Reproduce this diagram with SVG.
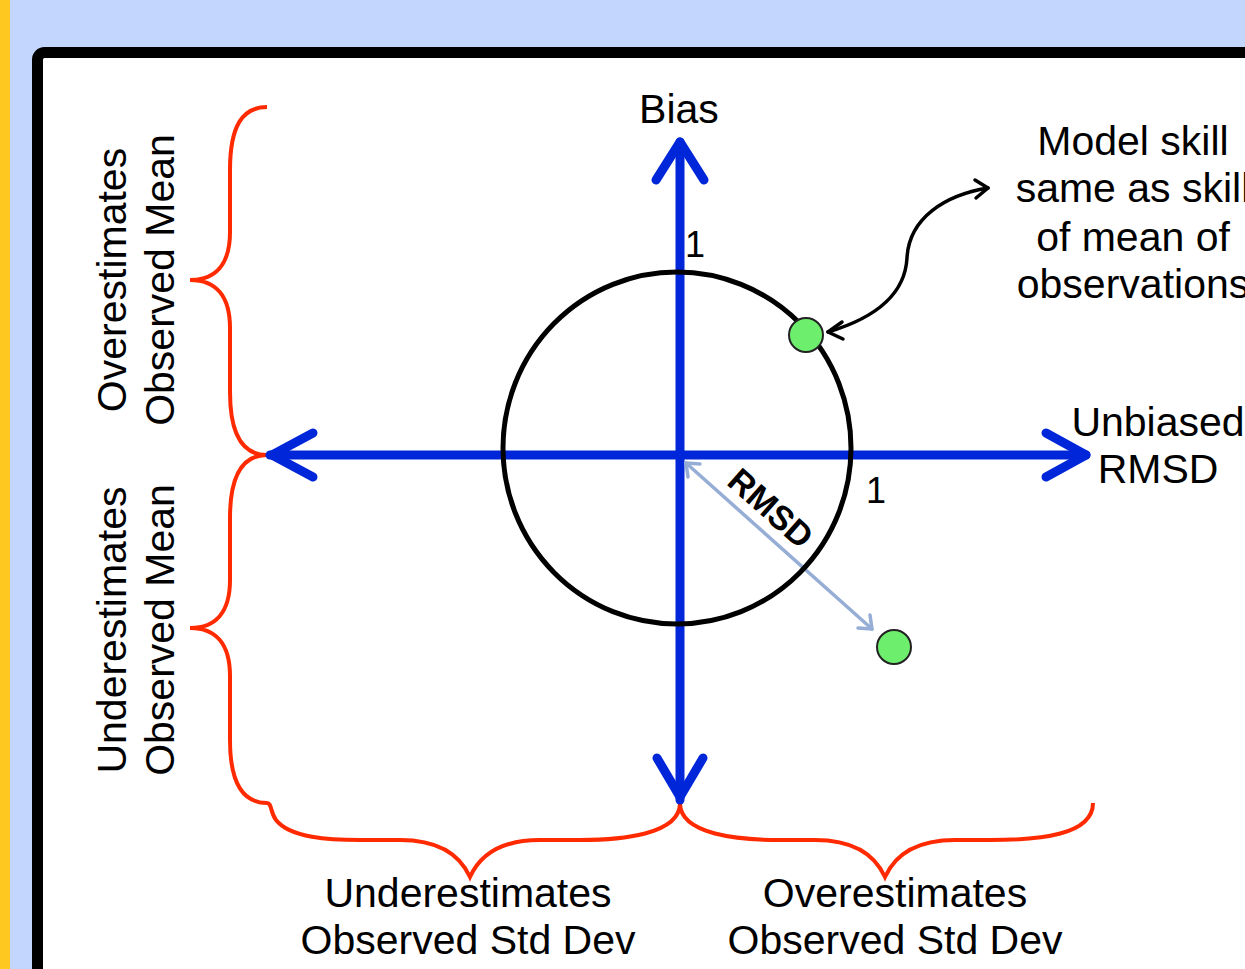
<svg xmlns="http://www.w3.org/2000/svg" width="1245" height="969" viewBox="0 0 1245 969">
<style>
text{font-family:"Liberation Sans",Arial,sans-serif;fill:#000;}
.lbl{font-size:41px;text-anchor:middle;}
.num{font-size:36px;}
.axis{stroke:#0026D9;stroke-width:9;fill:none;stroke-linecap:round;stroke-linejoin:round;}
.brace{stroke:#FF2A00;stroke-width:4;fill:none;}
.dot{fill:#6DEE6D;stroke:#222;stroke-width:2;}
</style>
<rect x="0" y="0" width="1245" height="969" fill="#C3D6FE"/>
<rect x="0" y="0" width="10" height="969" fill="#FFC820"/>
<rect x="37.5" y="52.5" width="1300" height="1000" rx="7" fill="#fff" stroke="#000" stroke-width="11"/>

<g id="braces">
<path class="brace" d="M267,107 C243,107 230,125 230,170 L230,232 C230,265 215,280 190,280 C215,280 230,295 230,328 L230,392 C230,435 243,455 267,455"/>
<path class="brace" d="M267,455 C243,455 230,475 230,518 L230,580 C230,613 215,628 190,628 C215,628 230,643 230,676 L230,740 C230,783 243,803 267,803"/>
<path class="brace" d="M267,803 C272,803 270,812 276,820 C290,838 330,840 360,840 L400,840 C440,840 460,855 470,877 C480,855 500,840 540,840 L580,840 C620,840 680,835 680,803"/>
<path class="brace" d="M680,803 C680,835 740,840 780,840 L815,840 C855,840 875,855 885,877 C895,855 915,840 955,840 L990,840 C1040,840 1093,835 1093,803"/>
</g>

<g id="connectors">
<line class="axis" x1="680" y1="800" x2="680" y2="142"/>
<polyline class="axis" points="656,180 680,142 704,180"/>
<polyline class="axis" points="657,758 680,797 703,758"/>
<line class="axis" x1="270" y1="455" x2="1086" y2="455"/>
<polyline class="axis" points="313,433 272,455 313,477"/>
<polyline class="axis" points="1046,433 1086,455 1046,477"/>
<g stroke="#96AED6" stroke-width="3.5" fill="none" stroke-linecap="round" stroke-linejoin="round">
<line x1="686" y1="463" x2="872" y2="629"/>
<polyline points="688,477 686,463 700,464"/>
<polyline points="858,628 872,629 870,615"/>
</g>
<g stroke="#000" stroke-width="3.5" fill="none" stroke-linecap="round" stroke-linejoin="round">
<path d="M828,332 C875,318 905,295 907,258 C909,218 945,195 988,188"/>
<polyline points="842,322 828,332 843,339"/>
<polyline points="975,180 988,188 976,198"/>
</g>
</g>

<g id="circle">
<ellipse cx="677" cy="448" rx="174" ry="176" fill="none" stroke="#000" stroke-width="5"/>
</g>

<g id="dot1"><circle class="dot" cx="806" cy="335" r="17"/></g>
<g id="dot2"><circle class="dot" cx="894" cy="647" r="17"/></g>

<g id="labels">
<text class="lbl" x="679" y="123">Bias</text>
<text class="num" x="685" y="257">1</text>
<text class="num" x="866" y="503">1</text>
<text x="0" y="0" font-size="34" font-weight="bold" text-anchor="middle" transform="translate(763,517) rotate(41.6)">RMSD</text>
<text class="lbl" x="1158" y="436">Unbiased</text>
<text class="lbl" x="1158" y="483">RMSD</text>
<text class="lbl" x="1133" y="155">Model skill</text>
<text class="lbl" x="1133" y="202">same as skill</text>
<text class="lbl" x="1133" y="251">of mean of</text>
<text class="lbl" x="1133" y="298">observations</text>
<text class="lbl" transform="translate(126,280) rotate(-90)">Overestimates</text>
<text class="lbl" transform="translate(174,280) rotate(-90)">Observed Mean</text>
<text class="lbl" transform="translate(126,630) rotate(-90)">Underestimates</text>
<text class="lbl" transform="translate(174,630) rotate(-90)">Observed Mean</text>
<text class="lbl" x="468" y="907">Underestimates</text>
<text class="lbl" x="468" y="954">Observed Std Dev</text>
<text class="lbl" x="895" y="907">Overestimates</text>
<text class="lbl" x="895" y="954">Observed Std Dev</text>
</g>
</svg>
